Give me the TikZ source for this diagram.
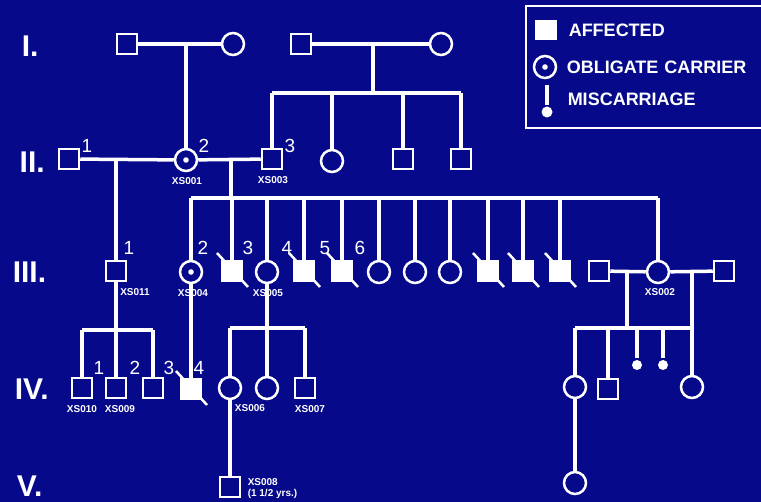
\documentclass[tikz,border=0pt]{standalone}
\usepackage{fontspec}
\setmainfont{Liberation Sans}
\definecolor{slide}{RGB}{6,10,138}
\begin{document}
\begin{tikzpicture}[x=1pt, y=-1pt, white, line width=3.5,
  male/.style={draw, rectangle, minimum size=20, inner sep=0, line width=2.5},
  female/.style={draw, circle, minimum size=22, inner sep=0, line width=2.5},
  affected/.style={male, fill=white},
  carrier/.style={female, path picture={\fill[white] (path picture bounding box.center) circle (2.8pt);}},
  misc/.style={circle, fill=white, minimum size=10, inner sep=0},
  gen/.style={font=\fontsize{30}{30}\selectfont\bfseries, anchor=base west, inner sep=0},
  num/.style={font=\fontsize{19}{19}\selectfont},
  xs/.style={font=\fontsize{10}{11}\selectfont\bfseries, inner sep=0},
  leg/.style={font=\fontsize{18}{18}\selectfont\bfseries, anchor=west, inner sep=0}]
\fill[slide] (0,0) rectangle (761,502);
\useasboundingbox (0,0) rectangle (761,502);
% generations
\node[gen] (g1) at (20,57) {I.};
\node[gen] (g2) at (18,173) {II.};
\node[gen] (g3) at (11,283) {III.};
\node[gen] (g4) at (13,400) {IV.};
\node[gen] (g5) at (15,497) {V.};
% I
\node[male] (a1) at (127,44) {};
\node[female] (a2) at (233,44) {};
\node[male] (a3) at (301,44) {};
\node[female] (a4) at (441,44) {};
% II
\node[male] (b1) at (69,159) {};
\node[carrier] (b2) at (186,160) {};
\node[male] (b3) at (272,159) {};
\node[female] (b4) at (332,161) {};
\node[male] (b5) at (403,159) {};
\node[male] (b6) at (461,159) {};
% III
\node[male] (c1) at (116,271) {};
\node[carrier] (c2) at (191,272) {};
\node[affected] (c3) at (232,271) {};
\node[female] (c4) at (267,272) {};
\node[affected] (c5) at (304,271) {};
\node[affected] (c6) at (342,271) {};
\node[female] (c7) at (379,272) {};
\node[female] (c8) at (415,272) {};
\node[female] (c9) at (450,272) {};
\node[affected] (c10) at (488,271) {};
\node[affected] (c11) at (523,271) {};
\node[affected] (c12) at (560,271) {};
\node[female] (c13) at (658,272) {};
\node[male] (c14) at (599,271) {};
\node[male] (c15) at (724,271) {};
% IV
\node[male] (d1) at (82,388) {};
\node[male] (d2) at (116,388) {};
\node[male] (d3) at (153,388) {};
\node[affected] (d4) at (191,389) {};
\node[female] (d5) at (230,388) {};
\node[female] (d6) at (267,388) {};
\node[male] (d7) at (305,388) {};
\node[female] (d8) at (575,387) {};
\node[male] (d9) at (608,389) {};
\node[misc] (k1) at (637,365) {};
\node[misc] (k2) at (663,365) {};
\node[female] (d10) at (692,387) {};
% V
\node[male] (e1) at (230,487) {};
\node[female] (e2) at (575,483) {};
% numbers and ids
\node[num] (n21) at (87,146) {1};
\node[num] (n22) at (204,146) {2};
\node[num] (n23) at (290,146) {3};
\node[xs] (x1) at (187,181) {XS001};
\node[xs] (x3) at (273,180) {XS003};
\node[num] (n31) at (129,248) {1};
\node[num] (n32) at (203,248) {2};
\node[num] (n33) at (248,248) {3};
\node[num] (n34) at (287,248) {4};
\node[num] (n35) at (325,248) {5};
\node[num] (n36) at (360,248) {6};
\node[xs] (x11) at (135,292) {XS011};
\node[xs] (x4) at (193,293) {XS004};
\node[xs] (x5) at (268,293) {XS005};
\node[xs] (x2) at (660,292) {XS002};
\node[num] (n41) at (99,368) {1};
\node[num] (n42) at (135,368) {2};
\node[num] (n43) at (169,368) {3};
\node[num] (n44) at (199,368) {4};
\node[xs] (x10) at (82,409) {XS010};
\node[xs] (x9) at (120,409) {XS009};
\node[xs] (x6) at (250,408) {XS006};
\node[xs] (x7) at (310,409) {XS007};
\node[xs, anchor=north west, align=left] (x8) at (246,477) {XS008\\(1 1/2 yrs.)};
% deceased
\foreach \n in {c3,c5,c6,c10,c11,c12,d4}
  \draw[line width=2.5] ([shift={(-15,-18)}]\n.center) -- ([shift={(16,16)}]\n.center);
% lines of descent
\draw (a1) -- (a2);
\coordinate (m1) at (186,44);
\draw (m1) -- (b2);
\draw (a3) -- (a4);
\coordinate (m2) at (373,44);
\coordinate (s2) at (373,93);
\draw (m2) -- (s2);
\draw (b3 |- s2) -- (b6 |- s2);
\foreach \n in {b3,b4,b5,b6} \draw (\n) -- (\n |- s2);
\draw (b1) -- (b2);
\draw (b2) -- (b3);
\coordinate (m3) at (116,159);
\draw (m3) -- (c1);
\coordinate (m4) at (231,159);
\coordinate (s4) at (231,198);
\draw (m4) -- (s4);
\draw (c2 |- s4) -- (c13 |- s4);
\foreach \n in {c2,c3,c4,c5,c6,c7,c8,c9,c10,c11,c12,c13} \draw (\n) -- (\n |- s4);
\draw (c14) -- (c13);
\draw (c13) -- (c15);
\coordinate (m5) at (627,271);
\coordinate (s5) at (627,328);
\draw (m5) -- (s5);
\coordinate (m6) at (692,271);
\draw (m6) -- (d10);
\draw (d8 |- s5) -- (d10 |- s5);
\foreach \n in {d8,d9,k1,k2} \draw (\n) -- (\n |- s5);
\coordinate (s6) at (116,330);
\draw (c1) -- (s6);
\draw (d1 |- s6) -- (d3 |- s6);
\foreach \n in {d1,d2,d3} \draw (\n) -- (\n |- s6);
\coordinate (s7) at (267,328);
\draw (c4) -- (s7);
\draw (d5 |- s7) -- (d7 |- s7);
\foreach \n in {d5,d6,d7} \draw (\n) -- (\n |- s7);
\draw (c2) -- (d4);
\draw (d5) -- (e1);
\draw (d8) -- (e2);
% legend
\draw[line width=2] (526,6) rectangle (775,128);
\node[affected, minimum width=20, minimum height=17] (l1) at (546,30) {};
\node[carrier] (l2) at (545,67) {};
\node[misc, minimum size=11] (l3) at (547,112) {};
\coordinate (l3top) at (547,85);
\draw (l3top) -- (l3);
\node[leg] (t1) at (567,30) {AFFECTED};
\node[leg] (t2) at (565,67) {OBLIGATE\hspace{6pt}CARRIER};
\node[leg] (t3) at (566,99) {MISCARRIAGE};
\end{tikzpicture}
\end{document}
